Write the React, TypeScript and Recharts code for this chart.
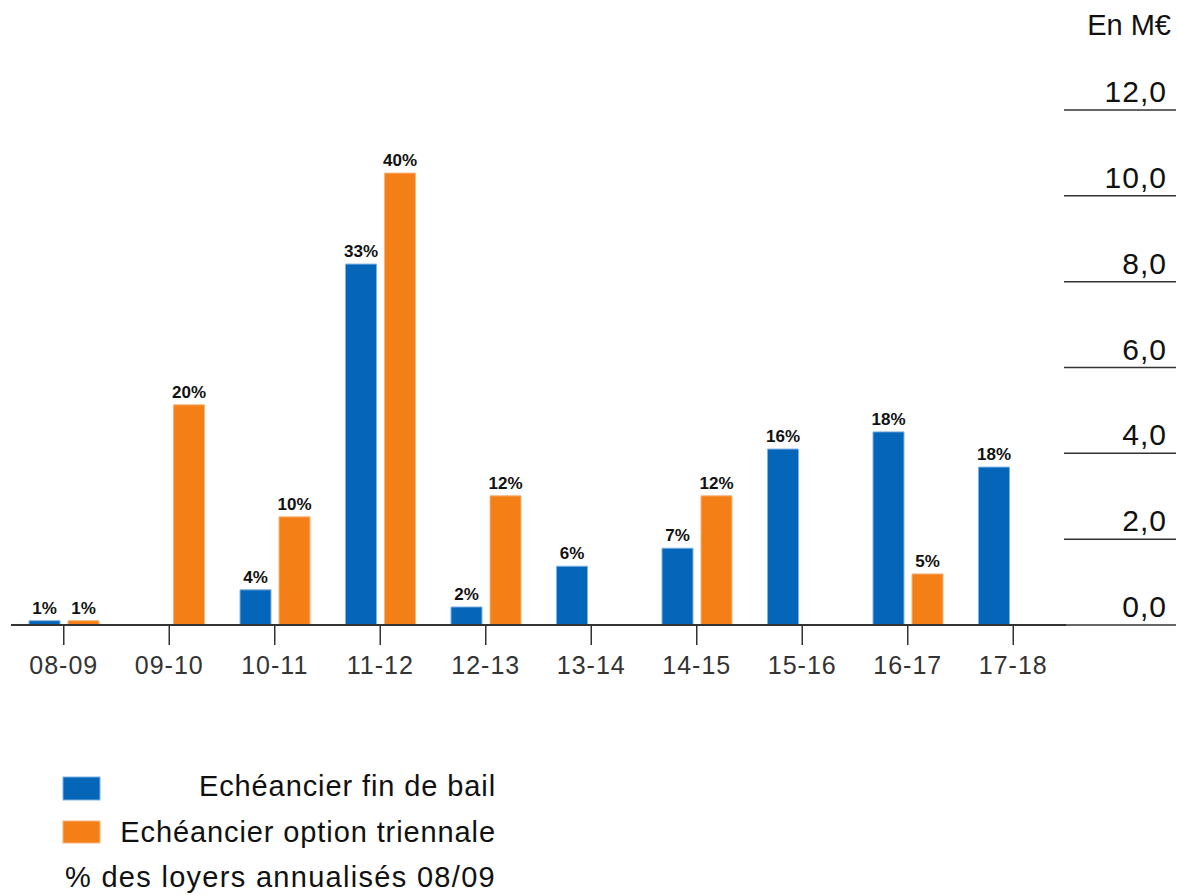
import React from 'react';
import { BarChart, Bar, XAxis, YAxis, LabelList } from 'recharts';

const categories = ['08-09', '09-10', '10-11', '11-12', '12-13', '13-14', '14-15', '15-16', '16-17', '17-18'];
// En M€
const finDeBail = [0.1, null, 0.82, 8.41, 0.42, 1.37, 1.79, 4.1, 4.5, 3.68];
const optionTriennale = [0.1, 5.13, 2.52, 10.53, 3.01, null, 3.01, null, 1.19, null];
// % des loyers annualisés 08/09
const finDeBailPct = ['1%', null, '4%', '33%', '2%', '6%', '7%', '16%', '18%', '18%'];
const optionTriennalePct = ['1%', '20%', '10%', '40%', '12%', null, '12%', null, '5%', null];
const yTicks = [0, 2, 4, 6, 8, 10, 12];

const BLUE = '#0565b8';
const ORANGE = '#f47f17';
const FONT = '"Liberation Sans", Arial, sans-serif';

const W = 1181;
const PLOT_LEFT = 11;
const PLOT_RIGHT = 1066;

const data = categories.map((cat, i) => ({
  cat,
  fin: finDeBail[i],
  opt: optionTriennale[i],
  finPct: finDeBailPct[i],
  optPct: optionTriennalePct[i],
}));

function YTick({ y, payload }: any) {
  return (
    <g>
      <line x1={PLOT_RIGHT - 2} x2={1176} y1={y} y2={y} stroke="#333" strokeWidth={1.5} />
      <text
        x={1167}
        y={y - 8}
        textAnchor="end"
        fontSize={30}
        letterSpacing={1}
        fontFamily={FONT}
        fill="#111"
      >
        {payload.value.toFixed(1).replace('.', ',')}
      </text>
    </g>
  );
}

const pctLabel = { fontSize: 17, fontWeight: 'bold', fill: '#111', fontFamily: FONT };

export default function App() {
  return (
    <div style={{ position: 'absolute', left: 0, top: 0, width: W, height: 895, background: '#fff', fontFamily: FONT }}>
      <svg width={W} height={50} style={{ position: 'absolute', left: 0, top: 0 }}>
        <text x={1171} y={35} textAnchor="end" fontSize={29} fontFamily={FONT} fill="#111">
          En M€
        </text>
      </svg>
      <div style={{ position: 'absolute', left: 0, top: 0 }}>
        <BarChart
          width={W}
          height={680}
          data={data}
          margin={{ top: 110, right: 0, left: PLOT_LEFT, bottom: 0 }}
          barSize={31}
          barGap={8}
        >
          <XAxis
            dataKey="cat"
            height={55}
            axisLine={{ stroke: '#333', strokeWidth: 2 }}
            tickLine={{ stroke: '#333', strokeWidth: 1.5 }}
            tickSize={20}
            tickMargin={11}
            tick={{ fontSize: 25, fill: '#333', fontFamily: FONT, letterSpacing: 1 }}
            interval={0}
          />
          <YAxis
            orientation="right"
            width={W - PLOT_RIGHT}
            domain={[0, 12]}
            ticks={yTicks}
            axisLine={false}
            tickLine={false}
            tick={<YTick />}
            interval={0}
          />
          <Bar dataKey="fin" fill={BLUE} stroke="#7fb3e3" strokeWidth={1} isAnimationActive={false}>
            <LabelList dataKey="finPct" position="top" offset={7} style={pctLabel} />
          </Bar>
          <Bar dataKey="opt" fill={ORANGE} stroke="#f8b47a" strokeWidth={1} isAnimationActive={false}>
            <LabelList dataKey="optPct" position="top" offset={7} style={pctLabel} />
          </Bar>
        </BarChart>
      </div>
      <svg width={520} height={140} style={{ position: 'absolute', left: 0, top: 760 }}>
        <rect x={63} y={17} width={37} height={23} fill={BLUE} stroke="#7fb3e3" />
        <rect x={63} y={61} width={37} height={22} fill={ORANGE} stroke="#f8b47a" />
        <g fontSize={29} fontFamily={FONT} fill="#111" textAnchor="end" letterSpacing={0.9}>
          <text x={496} y={36}>Echéancier fin de bail</text>
          <text x={496} y={82}>Echéancier option triennale</text>
          <text x={496} y={127} letterSpacing={1.3}>% des loyers annualisés 08/09</text>
        </g>
      </svg>
    </div>
  );
}
